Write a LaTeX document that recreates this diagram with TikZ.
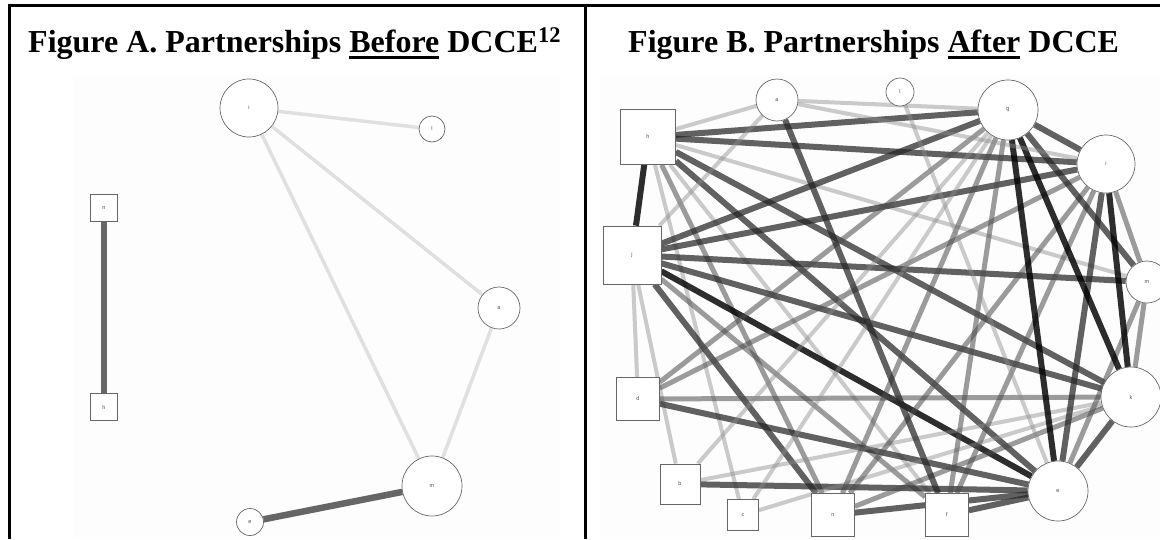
\documentclass[tikz,border=0pt]{standalone}
\usepackage{fontspec}
\setmainfont{Liberation Serif}
\newfontfamily\lblfont{Liberation Sans}
\newcommand\myul[1]{\setbox0\hbox{#1}\rlap{\rule[-7pt]{\wd0}{3pt}}\box0\relax}
\pgfdeclarelayer{edges}
\pgfdeclarelayer{bgl}
\pgfsetlayers{bgl,edges,main}
\begin{document}
\begin{tikzpicture}[x=1pt,y=-1pt,
  lbl/.style={font=\lblfont\fontsize{5.5}{6}\selectfont,text=black!70},
  cnode/.style={circle,draw=black!60,line width=0.7pt,fill=white,inner sep=0pt,minimum size=#1,lbl},
  snode/.style={rectangle,draw=black!60,line width=0.7pt,fill=white,inner sep=0pt,minimum size=#1,lbl},
  title/.style={anchor=base west,inner sep=0pt,font=\bfseries\fontsize{32}{34}\selectfont},
  border/.style={line width=3pt,draw=black},
  vd/.style={draw=black,opacity=0.82,line width=6pt},
  dk/.style={draw=black!85,opacity=0.72,line width=6pt},
  md/.style={draw=black!70,opacity=0.55,line width=5pt},
  lt/.style={draw=black!45,opacity=0.45,line width=4pt},
  xl/.style={draw=black!12,line width=3.5pt},
  hv/.style={draw=black!60,line width=5.5pt},
]
\useasboundingbox (0,0) rectangle (1160,539);
\begin{pgfonlayer}{bgl}
\fill[white] (0,0) rectangle (1160,539);
\fill[black!0.8] (73,75) rectangle (560,539);
\fill[black!0.8] (600,75) rectangle (1160,539);
\end{pgfonlayer}
% borders
\draw[border] (7.5,5.5) -- (1160,5.5);
\draw[border] (9,5.5) -- (9,539);
\draw[border] (585.5,5.5) -- (585.5,539);
% titles
\node[title] (tA) at (28,52) {Figure A. Partnerships \myul{Before} DCCE\textsuperscript{12}};
\node[title] (tB) at (628,52) {Figure B. Partnerships \myul{After} DCCE};
% ---- Figure A ----
\node[cnode=58] (iA) at (249,108) {i};
\node[cnode=26] (lA) at (432,129) {l};
\node[snode=27] (nA) at (104,208) {n};
\node[cnode=42] (aA) at (499,308) {a};
\node[snode=27] (hA) at (104,407) {h};
\node[cnode=60] (mA) at (432,486) {m};
\node[cnode=27] (eA) at (250,522) {e};
\begin{pgfonlayer}{edges}
\draw[xl] (iA) -- (lA);
\draw[xl] (iA) -- (aA);
\draw[xl] (iA) -- (mA);
\draw[xl] (aA) -- (mA);
\draw[hv] (nA) -- (hA);
\draw[hv,line width=6.5pt] (eA) -- (mA);
\end{pgfonlayer}
% ---- Figure B ----
\node[cnode=42] (a) at (777,100) {a};
\node[cnode=28] (l) at (900,92) {l};
\node[cnode=60] (g) at (1008,110) {g};
\node[snode=55] (h) at (648,137) {h};
\node[cnode=58] (i) at (1106,164) {i};
\node[snode=58] (j) at (632,255) {j};
\node[cnode=42] (m) at (1147,282) {m};
\node[snode=43] (d) at (638,399) {d};
\node[cnode=60] (k) at (1131,397) {k};
\node[snode=40] (b) at (680,484) {b};
\node[snode=31] (c) at (743,515) {c};
\node[snode=43] (n) at (833,515) {n};
\node[snode=43] (f) at (947,515) {f};
\node[cnode=60] (e) at (1058,491) {e};
\begin{pgfonlayer}{edges}
% h
\draw[dk] (h) -- (g);
\draw[dk] (h) -- (i);
\draw[lt] (h) -- (m);
\draw[dk] (h) -- (k);
\draw[dk] (h) -- (e);
\draw[md] (h) -- (n);
\draw[vd] (h) -- (j);
\draw[lt] (h) -- (a);
\draw[lt] (h) -- (f);
\draw[lt] (h) -- (c);
% j
\draw[dk] (j) -- (g);
\draw[dk] (j) -- (i);
\draw[dk] (j) -- (m);
\draw[dk] (j) -- (k);
\draw[vd] (j) -- (e);
\draw[dk] (j) -- (n);
\draw[md] (j) -- (f);
\draw[lt] (j) -- (d);
\draw[lt] (j) -- (b);
\draw[lt] (j) -- (a);
% d
\draw[md] (d) -- (k);
\draw[dk] (d) -- (e);
\draw[md] (d) -- (g);
\draw[md] (d) -- (i);
% b
\draw[dk] (b) -- (e);
\draw[lt] (b) -- (k);
\draw[lt] (b) -- (g);
% c
\draw[lt] (c) -- (g);
\draw[lt] (c) -- (k);
% n
\draw[dk] (n) -- (e);
\draw[md] (n) -- (g);
\draw[md] (n) -- (i);
\draw[md] (n) -- (k);
% f
\draw[dk] (f) -- (e);
\draw[md] (f) -- (g);
\draw[md] (f) -- (i);
\draw[dk] (a) -- (f);
% e
\draw[vd] (e) -- (g);
\draw[dk] (e) -- (k);
\draw[dk] (e) -- (i);
\draw[md] (e) -- (m);
\draw[lt] (e) -- (l);
% g, i, k
\draw[dk] (g) -- (i);
\draw[vd] (g) -- (k);
\draw[dk] (g) -- (m);
\draw[lt] (g) -- (a);
\draw[vd] (i) -- (k);
\draw[md] (i) -- (m);
\draw[lt] (i) -- (a);
\draw[md] (k) -- (m);
\end{pgfonlayer}
\end{tikzpicture}
\end{document}
